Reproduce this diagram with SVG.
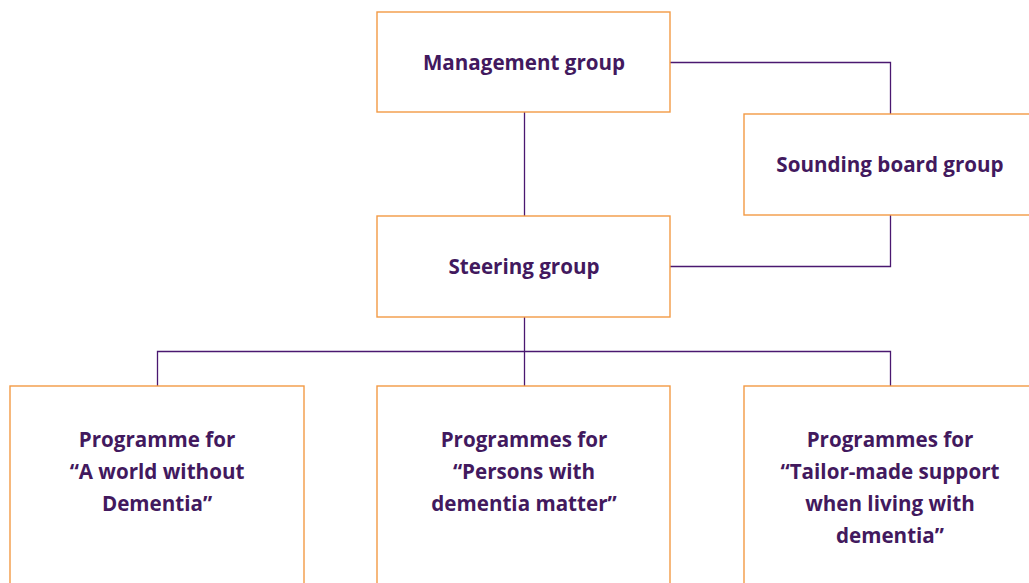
<svg xmlns="http://www.w3.org/2000/svg" width="1029" height="583" viewBox="0 0 1029 583">
<style>
.box{fill:#fff;stroke:#f29a45;stroke-width:1.4}
.t{font-family:"Open Sans","Liberation Sans",sans-serif;font-weight:bold;font-size:20.6px;fill:#42195e;text-anchor:middle}
.c{fill:none;stroke:#4a1870;stroke-width:1.3}
</style>
<rect width="1029" height="583" fill="#fff"/>
<g id="connectors">
<path class="c" d="M670 62.5H890.5V114"/>
<path class="c" d="M524.5 112V216"/>
<path class="c" d="M890.5 215V266.5H670"/>
<path class="c" d="M524.5 317V386"/>
<path class="c" d="M157.5 386V351.5H890.5V386"/>
</g>
<g id="management">
<rect class="box" x="377" y="12" width="293" height="100"/>
<text class="t" x="524" y="70">Management group</text>
</g>
<g id="sounding">
<rect class="box" x="744" y="114" width="300" height="101"/>
<text class="t" x="890" y="172">Sounding board group</text>
</g>
<g id="steering">
<rect class="box" x="377" y="216" width="293" height="101"/>
<text class="t" x="524" y="274">Steering group</text>
</g>
<g id="prog1">
<rect class="box" x="10" y="386" width="294" height="210"/>
<text class="t" x="157" y="447">Programme for</text>
<text class="t" x="157" y="479">“A world without</text>
<text class="t" x="157" y="511">Dementia”</text>
</g>
<g id="prog2">
<rect class="box" x="377" y="386" width="293" height="210"/>
<text class="t" x="524" y="447">Programmes for</text>
<text class="t" x="524" y="479">“Persons with</text>
<text class="t" x="524" y="511">dementia matter”</text>
</g>
<g id="prog3">
<rect class="box" x="744" y="386" width="300" height="210"/>
<text class="t" x="890" y="447">Programmes for</text>
<text class="t" x="890" y="479">“Tailor-made support</text>
<text class="t" x="890" y="511">when living with</text>
<text class="t" x="890" y="543">dementia”</text>
</g>
</svg>
